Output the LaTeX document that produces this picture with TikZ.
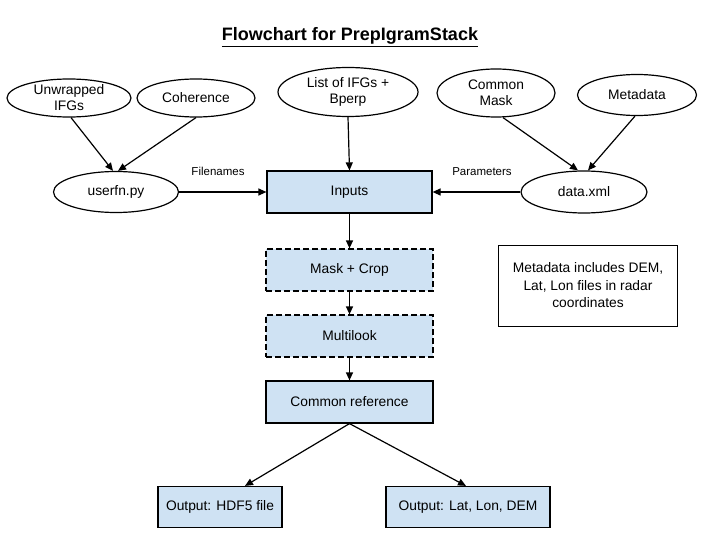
\documentclass[tikz,border=0pt]{standalone}
\usepackage{fontspec}
\setmainfont{Liberation Sans}
\usetikzlibrary{arrows.meta,shapes.geometric}
\definecolor{boxblue}{RGB}{207,226,243}
\begin{document}
\begin{tikzpicture}[x=1pt,y=-1pt,
  every node/.style={font=\fontsize{13.8}{16}\selectfont, inner sep=0pt},
  ell/.style={ellipse, draw, line width=1.2pt, fill=white, align=center},
  procbox/.style={rectangle, draw, line width=1.2pt, fill=boxblue, minimum height=42pt},
  dashbox/.style={procbox, dash pattern=on 6pt off 3pt},
  arr/.style={line width=1.2pt, -{Triangle[length=8pt,width=7pt]}},
  lbl/.style={font=\fontsize{11.5}{13}\selectfont}
]
\useasboundingbox (0,0) rectangle (720,540);
\node[font=\bfseries\fontsize{18}{20}\selectfont] (title) at (350,37) {\underline{Flowchart for PrepIgramStack}};

\node[ell, minimum width=124pt, minimum height=38pt] (unw) at (69,98) {Unwrapped\\IFGs};
\node[ell, minimum width=118pt, minimum height=38pt] (coh) at (196,98) {Coherence};
\node[ell, minimum width=140pt, minimum height=49pt] (list) at (348,92) {List of IFGs +\\Bperp};
\node[ell, minimum width=118pt, minimum height=48pt] (cmask) at (496,93) {Common\\Mask};
\node[ell, minimum width=119pt, minimum height=41pt] (meta) at (637,95) {Metadata};

\node[ell, minimum width=125pt, minimum height=41pt] (userfn) at (116,192) {userfn.py};
\node[ell, minimum width=126pt, minimum height=42pt] (data) at (584,192) {data.xml};
\node[procbox, minimum width=165pt] (inputs) at (349.5,192) {Inputs};

\node[dashbox, minimum width=167pt] (mask) at (349.5,270) {Mask + Crop};
\node[dashbox, minimum width=167pt] (multi) at (349.5,336) {Multilook};
\node[procbox, minimum width=167pt] (cref) at (349.5,402) {Common reference};
\node[procbox, minimum width=124pt, minimum height=41pt] (hdf) at (220,507) {Output: HDF5 file};
\node[procbox, minimum width=164pt, minimum height=41pt] (lld) at (468,507) {Output: Lat, Lon, DEM};

\node[draw, line width=0.8pt, fill=white, minimum width=179pt, minimum height=81pt, align=center, font=\fontsize{13.8}{17.5}\selectfont] (note) at (588,285.5) {Metadata includes DEM,\\Lat, Lon files in radar\\coordinates};

\node[lbl] (fn) at (218,171) {Filenames};
\node[lbl] (par) at (482,172) {Parameters};

\draw[arr] ([xshift=2pt]unw.south) -- ([xshift=-3pt]userfn.north);
\draw[arr] (coh.south) -- ([xshift=2pt]userfn.north);
\draw[arr] ([xshift=7pt]cmask.south) -- ([xshift=-6pt]data.north);
\draw[arr] ([xshift=-2pt]meta.south) -- ([xshift=4pt]data.north);
\draw[arr] (list.south) -- (inputs.north);
\draw[arr] (userfn.east) -- (inputs.west);
\draw[arr] (data.west) -- (inputs.east);
\draw[arr] (inputs.south) -- (mask.north);
\draw[arr] (mask.south) -- (multi.north);
\draw[arr] (multi.south) -- (cref.north);
\draw[arr] (cref.south) -- ([xshift=25pt]hdf.north);
\draw[arr] (cref.south) -- ([xshift=-2pt]lld.north);
\end{tikzpicture}
\end{document}
